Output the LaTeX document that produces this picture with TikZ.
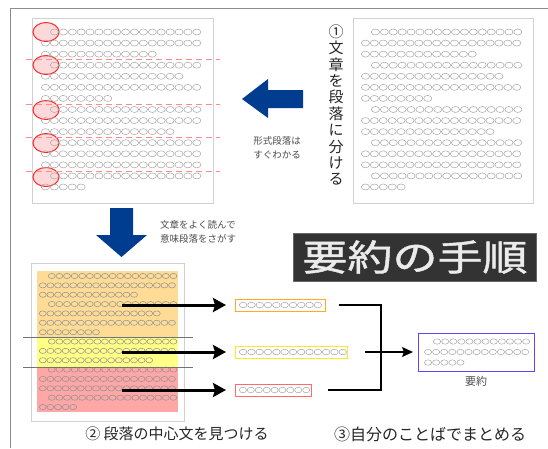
\documentclass[tikz,border=0pt]{standalone}
\usepackage{fontspec}
\setmainfont{Noto Sans CJK JP}
\newfontfamily\titlefont{Noto Sans CJK JP}[FakeStretch=1.25,FakeBold=1.3]
\usetikzlibrary{arrows.meta}
\definecolor{navyblue}{HTML}{003C8F}
\definecolor{paraorange}{HTML}{FFDC96}
\definecolor{parayellow}{HTML}{FFFF86}
\definecolor{parapink}{HTML}{FFA6A6}
\definecolor{sentorange}{RGB}{255,170,40}
\definecolor{sentyellow}{HTML}{F8EC20}
\definecolor{sentred}{HTML}{FF6A6A}
\definecolor{sumblue}{HTML}{5A46FF}
\newcommand\ovalrow[7][]{%
  \foreach \k in {1,...,#4}{\draw[#1] ({#2+(\k-0.5)*#5},{#3}) ellipse [x radius=#6pt, y radius=#7pt];}}
% x0, indent, y0, dy, step, rx, ry, style
\newcommand\docrows[8]{%
  \foreach \rr/\ind/\nn in {1/1/17,2/0/18,3/0/13,4/1/17,5/0/16,6/0/18,7/0/8,8/1/17,9/0/18,10/0/15,11/1/17,12/0/18,13/0/18,14/1/17,15/0/5}{%
    \ovalrow[#8]{#1+\ind*#2}{#3+(\rr-1)*#4}{\nn}{#5}{#6}{#7}}}
\begin{document}
\begin{tikzpicture}[x=1pt,y=-1pt,
  docbox/.style={draw=black!18, line width=1pt, fill=white},
  ovl/.style={draw=black!35, line width=0.5pt},
  ovd/.style={draw=black!42, line width=0.55pt},
  redmark/.style={draw=red!85, fill=red!15, line width=1pt},
  cut/.style={draw=red!45, line width=1pt, dash pattern=on 6pt off 4pt},
  sep/.style={draw=black!55, line width=1pt},
  bigarrow/.style={line width=3pt, -{Stealth[length=13pt,width=14pt,inset=2pt]}},
  thinarrow/.style={line width=1.1pt, -{Stealth[length=11pt,width=10pt,inset=2pt]}},
  sbox/.style={line width=1.1pt, fill=white, minimum height=12pt, inner sep=0pt, anchor=north west},
  note/.style={text=black!70, font=\fontsize{9.5}{14}\selectfont, inner sep=0pt},
  captxt/.style={text=black!85, inner sep=0pt}
]
\useasboundingbox (0,0) rectangle (548,448);
\fill[white] (0,0) rectangle (548,448);
\draw[black!45, line width=1pt] (10,448) -- (10,8) -- (548,8);

% ---- top-left document ----
\node[docbox, minimum width=181pt, minimum height=185pt, inner sep=0pt, anchor=north west] (docA) at (32,18) {};
\foreach \yy in {32,65,110,143,177}{\draw[redmark] (46,\yy) ellipse [x radius=13pt, y radius=9.5pt];}
\docrows{41}{9}{32}{11.07}{8.9}{4.1}{3}{ovl}
\foreach \yy in {59,104,137,171}{\draw[cut] (26,\yy) -- (220,\yy);}

% ---- top-right document ----
\node[docbox, minimum width=180pt, minimum height=185pt, inner sep=0pt, anchor=north west] (docB) at (353,18) {};
\docrows{361}{10}{32}{11.07}{8.9}{4.1}{3}{ovl}
\node[captxt, align=center, font=\fontsize{15}{16.4}\selectfont, text=black!85] (step1) at (336,105)
  {①\\文\\章\\を\\段\\落\\に\\分\\け\\る};

% ---- blue arrows ----
\fill[navyblue] (242,99) -- (268,79) -- (268,90) -- (303,90) -- (303,108) -- (268,108) -- (268,118) -- cycle;
\node[note, align=center] (n1) at (277,148) {形式段落は\\すぐわかる};
\fill[navyblue] (110,208) -- (133,208) -- (133,235) -- (147,235) -- (121.5,257) -- (96,235) -- (110,235) -- cycle;
\node[note, align=left, anchor=west] (n2) at (160,232) {文章をよく読んで\\意味段落をさがす};

% ---- title ----
\node[fill=black!80, draw=black!60, line width=0.6pt, minimum width=243pt, minimum height=48pt, inner sep=0pt, text=black!8,
      font=\fontsize{36}{40}\selectfont\titlefont] (title) at (415,257) {要約の手順};

% ---- bottom-left document ----
\node[docbox, minimum width=153pt, minimum height=158pt, inner sep=0pt, anchor=north west] (docC) at (31,263) {};
\fill[paraorange] (37,271) rectangle (178,337);
\fill[parayellow] (37,337) rectangle (178,367);
\fill[parapink] (37,367) rectangle (178,412);
\docrows{39}{9}{276}{9.36}{7.6}{3.5}{2.6}{ovd}
\draw[sep] (23,337) -- (193,337);
\draw[sep] (23,367) -- (193,367);

% ---- central sentences ----
\node[sbox, draw=sentorange, minimum width=90pt] (b1) at (235,299) {};
\node[sbox, draw=sentyellow, minimum width=112pt] (b2) at (235,346) {};
\node[sbox, draw=sentred, minimum width=76pt] (b3) at (235,384) {};
\ovalrow[ovl]{239}{305}{10}{8.3}{3.8}{2.8}
\ovalrow[ovl]{239}{352}{13}{8.3}{3.8}{2.8}
\ovalrow[ovl]{239}{390}{9}{7.9}{3.6}{2.8}

\coordinate (a1) at (122,305);
\coordinate (a2) at (122,352);
\coordinate (a3) at (122,390);
\draw[bigarrow] (a1) -- ([xshift=-9pt]b1.west |- a1);
\draw[bigarrow] (a2) -- ([xshift=-9pt]b2.west |- a2);
\draw[bigarrow] (a3) -- ([xshift=-9pt]b3.west |- a3);

% ---- bracket and summary ----
\coordinate (k1) at (381,305);
\coordinate (k3) at (381,390);
\draw[line width=1.2pt] ([xshift=13pt]b1.east |- k1) -- (k1) -- (k3) -- ([xshift=16pt]b3.east |- k3);
\node[draw=sumblue, line width=1.2pt, minimum width=116pt, minimum height=38pt, inner sep=0pt, anchor=north west] (sum) at (418,333) {};
\coordinate (m0) at (365,352);
\draw[thinarrow] (m0) -- ([xshift=-5pt]sum.west |- m0);
\ovalrow[ovl]{433}{341.5}{12}{8.1}{3.6}{2.7}
\ovalrow[ovl]{424}{352}{13}{8.1}{3.6}{2.7}
\ovalrow[ovl]{424}{362.5}{5}{8.1}{3.6}{2.7}
\node[captxt, text=black!70, font=\fontsize{11}{13}\selectfont] (sumlbl) at (476,381) {要約};

% ---- captions ----
\node[captxt, font=\fontsize{15}{17}\selectfont] (c2) at (177,434) {② 段落の中心文を見つける};
\node[captxt, font=\fontsize{16}{18}\selectfont] (c3) at (430,434) {③自分のことばでまとめる};
\end{tikzpicture}
\end{document}
